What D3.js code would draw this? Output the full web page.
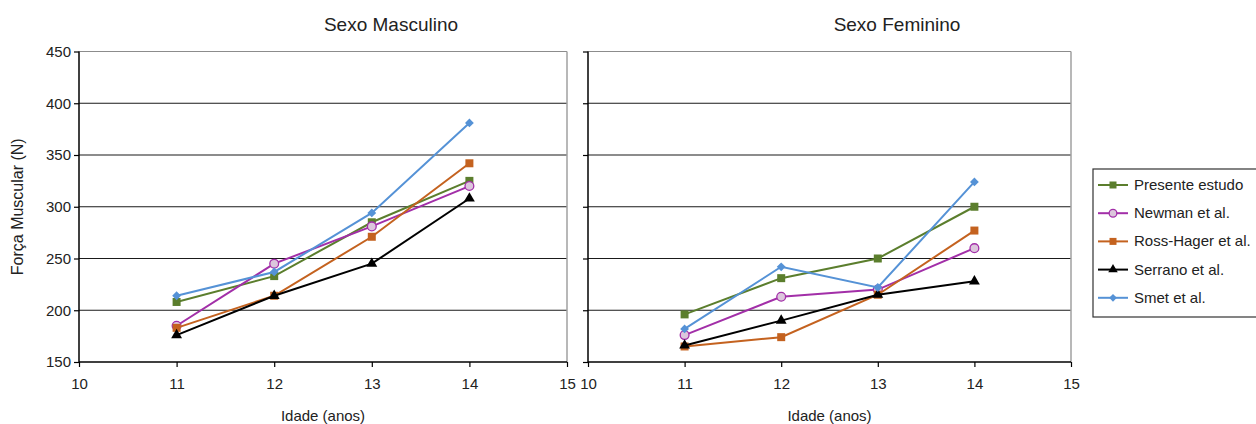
<!DOCTYPE html>
<html>
<head>
<meta charset="utf-8">
<script src="https://cdn.jsdelivr.net/npm/d3@7"></script>
<style>
  body { margin: 0; background: #fff; }
  svg { font-family: "Liberation Sans", Arial, sans-serif; }
</style>
</head>
<body>
<div id="chart"></div>
<script>
// dados
const idades = [11, 12, 13, 14]
const xTicks = [10, 11, 12, 13, 14, 15]
const yTicks = [150, 200, 250, 300, 350, 400, 450]
const seriesNames = ["Presente estudo", "Newman et al.", "Ross-Hager et al.", "Serrano et al.", "Smet et al."]

const masculino = {
    "Presente estudo":   [208, 233, 285, 325],
    "Newman et al.":     [185, 245, 281, 320],
    "Ross-Hager et al.": [183, 214, 271, 342],
    "Serrano et al.":    [176, 214, 245, 308],
    "Smet et al.":       [214, 237, 294, 381]
}
const feminino = {
    "Presente estudo":   [196, 231, 250, 300],
    "Newman et al.":     [176, 213, 220, 260],
    "Ross-Hager et al.": [165, 174, 215, 277],
    "Serrano et al.":    [166, 190, 215, 228],
    "Smet et al.":       [182, 242, 222, 324]
}

const estilo = {
    "Presente estudo":   { color: "#5b7e2d", marker: "square" },
    "Newman et al.":     { color: "#a22fa8", marker: "circle" },
    "Ross-Hager et al.": { color: "#c4621f", marker: "square" },
    "Serrano et al.":    { color: "#000000", marker: "triangle" },
    "Smet et al.":       { color: "#5592d6", marker: "diamond" }
}

const width = 1256, height = 424
const plotTop = 51.5, plotBottom = 362

const svg = d3.select("#chart").append("svg")
    .attr("width", width)
    .attr("height", height)

const y = d3.scaleLinear().domain([150, 450]).range([plotBottom, plotTop])

function drawMarker(g, name, cx, cy, size) {
    const s = estilo[name]
    if (s.marker === "circle") {
        g.append("circle").attr("cx", cx).attr("cy", cy).attr("r", size * 0.55)
            .attr("fill", "#dcc6dc").attr("stroke", s.color).attr("stroke-width", 1.3)
    } else if (s.marker === "diamond") {
        const r = size * 0.55
        g.append("path")
            .attr("transform", `translate(${cx},${cy})`)
            .attr("d", `M0,${-r}L${r},0L0,${r}L${-r},0Z`)
            .attr("fill", s.color)
    } else {
        const sym = s.marker === "square" ? d3.symbolSquare : d3.symbolTriangle
        const area = s.marker === "square" ? size * size : size * size * 0.8
        g.append("path")
            .attr("transform", `translate(${cx},${cy})`)
            .attr("d", d3.symbol(sym, area)())
            .attr("fill", s.color)
    }
}

function painel(x0, x1, titulo, tituloX, dados, labelsY) {
    const x = d3.scaleLinear().domain([10, 15]).range([x0, x1])
    const g = svg.append("g")

    // linhas de grade
    g.selectAll("line.grid")
        .data(yTicks.filter(d => d > 150 && d < 450))
        .join("line")
        .attr("x1", x0).attr("x2", x1)
        .attr("y1", d => y(d)).attr("y2", d => y(d))
        .attr("stroke", "#1a1a1a").attr("stroke-width", 1.2)

    // borda superior e direita
    g.append("line").attr("x1", x0).attr("x2", x1).attr("y1", y(450)).attr("y2", y(450))
        .attr("stroke", "#8c8c8c").attr("stroke-width", 1.2)
    g.append("line").attr("x1", x1).attr("x2", x1).attr("y1", y(450)).attr("y2", y(150))
        .attr("stroke", "#a0a0a0").attr("stroke-width", 1.5)

    // eixo Y
    const yAxis = g.append("g")
        .attr("transform", `translate(${x0},0)`)
        .call(d3.axisLeft(y).tickValues(yTicks).tickSize(5).tickFormat(labelsY ? d3.format("d") : ""))
    yAxis.select(".domain").attr("stroke", "#000").attr("stroke-width", 1.5).attr("d", `M0,${y(450)}V${y(150)}`)
    yAxis.selectAll(".tick line").attr("stroke", "#000").attr("stroke-width", 1.2)
    yAxis.selectAll(".tick text").attr("font-size", 15).attr("fill", "#222").attr("x", -8)
        .attr("font-family", "Liberation Sans, Arial, sans-serif")

    // eixo X
    const xAxis = g.append("g")
        .attr("transform", `translate(0,${plotBottom})`)
        .call(d3.axisBottom(x).tickValues(xTicks).tickSize(5).tickFormat(d3.format("d")))
    xAxis.select(".domain").attr("stroke", "#000").attr("stroke-width", 1.5).attr("d", `M${x0},0H${x1}`)
    xAxis.selectAll(".tick line").attr("stroke", "#000").attr("stroke-width", 1.2)
    xAxis.selectAll(".tick text").attr("font-size", 15).attr("fill", "#222").attr("y", 16)
        .attr("font-family", "Liberation Sans, Arial, sans-serif")

    // séries
    const line = d3.line().x((d, i) => x(idades[i])).y(d => y(d))
    seriesNames.forEach(name => {
        g.append("path")
            .datum(dados[name])
            .attr("d", line)
            .attr("fill", "none")
            .attr("stroke", estilo[name].color)
            .attr("stroke-width", 2)
        dados[name].forEach((v, i) => drawMarker(g, name, x(idades[i]), y(v), 8))
    })

    // título e rótulo do eixo X
    g.append("text").attr("x", tituloX).attr("y", 31)
        .attr("text-anchor", "middle").attr("font-size", 19).attr("fill", "#222")
        .text(titulo)
    g.append("text").attr("x", (x0 + x1) / 2).attr("y", 421)
        .attr("text-anchor", "middle").attr("font-size", 15).attr("fill", "#222")
        .text("Idade (anos)")
}

painel(79, 567, "Sexo Masculino", 391, masculino, true)
painel(588, 1071, "Sexo Feminino", 897, feminino, false)

// rótulo do eixo Y
svg.append("text")
    .attr("transform", `translate(23,${(plotTop + plotBottom) / 2}) rotate(-90)`)
    .attr("text-anchor", "middle").attr("font-size", 16).attr("fill", "#222")
    .text("Força Muscular (N)")

// legenda
const legend = svg.append("g").attr("transform", "translate(1093,169)")
legend.append("rect").attr("width", 170).attr("height", 148)
    .attr("fill", "#fff").attr("stroke", "#333").attr("stroke-width", 1.2)
seriesNames.forEach((name, i) => {
    const ly = 16 + i * 28.2
    legend.append("line").attr("x1", 5).attr("x2", 35).attr("y1", ly).attr("y2", ly)
        .attr("stroke", estilo[name].color).attr("stroke-width", 2)
    drawMarker(legend, name, 20, ly, 7)
    legend.append("text").attr("x", 41).attr("y", ly + 5)
        .attr("font-size", 15).attr("fill", "#222").text(name)
})
</script>
</body>
</html>
